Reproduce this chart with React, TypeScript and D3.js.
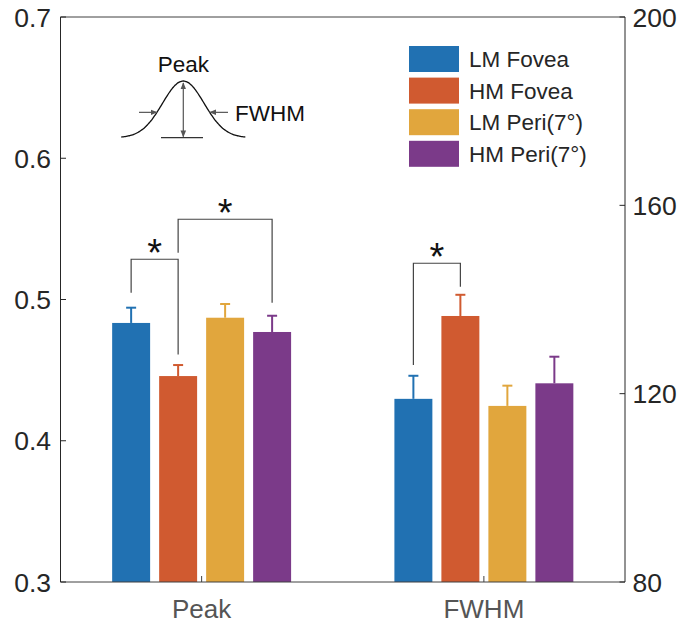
import React from "react";
import * as d3 from "d3";

const categories = ["Peak", "FWHM"];
const seriesNames = ["LM Fovea", "HM Fovea", "LM Peri(7°)", "HM Peri(7°)"];
const seriesColors = ["#2171b2", "#d05a30", "#e1a63d", "#7b3a89"];
const peakValues = [0.4834, 0.4458, 0.4871, 0.477];
const peakErrors = [0.0108, 0.0078, 0.0097, 0.0115];
const fwhmValues = [118.9, 136.5, 117.4, 122.2];
const fwhmErrors = [4.9, 4.5, 4.3, 5.65];
const leftTicks = [0.3, 0.4, 0.5, 0.6, 0.7];
const rightTicks = [80, 120, 160, 200];
// significance brackets
const brackets = [
  { cat: 0, a: 0, b: 1, top: 0.5285, legA: 0.5048, legB: 0.461 },
  { cat: 0, a: 1, b: 3, top: 0.5568, legA: 0.5331, legB: 0.4977 },
  { cat: 1, a: 0, b: 1, top: 147.7, legA: 126.1, legB: 142.7 },
];

const W = 681;
const H = 622;
const L = 60.5;
const R = 625;
const T = 17;
const B = 582;

export default function App() {
  const x = d3.scaleLinear().domain([0.5, 2.5]).range([L, R]);
  const yL = d3.scaleLinear().domain([0.3, 0.7]).range([B, T]);
  const yR = d3.scaleLinear().domain([80, 200]).range([B, T]);
  const groupOffset = d3
    .scaleBand<number>()
    .domain([0, 1, 2, 3])
    .range([-0.317, 0.317])
    .paddingInner(0.192);
  const bw = x(1 + groupOffset.bandwidth()) - x(1);
  const barX = (cat: number, s: number) =>
    x(cat + 1 + (groupOffset(s) as number) + groupOffset.bandwidth() / 2);

  const axisColor = "#262626";
  const font = "'Liberation Sans', Arial, Helvetica, sans-serif";

  const groups = [
    { values: peakValues, errors: peakErrors, y: yL },
    { values: fwhmValues, errors: fwhmErrors, y: yR },
  ];

  // inset gaussian
  const gx0 = 183.3;
  const gBase = 137.7;
  const gPeak = 81;
  const sigma = 20.8;
  const gPts = d3.range(-62, 62.5, 1);
  const gLine = d3
    .line<number>()
    .x((d) => gx0 + d)
    .y((d) => gBase - (gBase - gPeak) * Math.exp(-(d * d) / (2 * sigma * sigma)))
    .curve(d3.curveBasis);
  const halfY = gBase - (gBase - gPeak) / 2;
  const halfDx = sigma * Math.sqrt(2 * Math.log(2));
  const arrowGray = "#555";

  return (
    <svg
      width={W}
      height={H}
      style={{ position: "absolute", left: 0, top: 0, background: "#fff" }}
      fontFamily={font}
    >
      <defs>
        <marker id="ah" viewBox="0 0 10 10" refX="9" refY="5" markerWidth="7" markerHeight="7" orient="auto-start-reverse" markerUnits="userSpaceOnUse">
          <path d="M0,1 L10,5 L0,9 z" fill={arrowGray} />
        </marker>
      </defs>

      {/* bars */}
      {groups.map((g, ci) =>
        g.values.map((v, si) => {
          const cx = barX(ci, si);
          const yTop = g.y(v);
          const yCap = g.y(v + g.errors[si]);
          return (
            <g key={`${ci}-${si}`}>
              <rect x={cx - bw / 2} y={yTop} width={bw} height={B - yTop} fill={seriesColors[si]} />
              <line x1={cx} x2={cx} y1={yTop} y2={yCap} stroke={seriesColors[si]} strokeWidth={2} />
              <line x1={cx - 5} x2={cx + 5} y1={yCap} y2={yCap} stroke={seriesColors[si]} strokeWidth={2} />
            </g>
          );
        })
      )}

      {/* axes box */}
      <line x1={L} x2={R} y1={T} y2={T} stroke="#404040" strokeWidth={1} />
      <line x1={L} x2={R} y1={B} y2={B} stroke="#404040" strokeWidth={1} />
      <line x1={L} x2={L} y1={T} y2={B} stroke={axisColor} strokeWidth={1} />
      <line x1={R} x2={R} y1={T} y2={B} stroke={axisColor} strokeWidth={1} />

      {leftTicks.map((t) => (
        <g key={`l${t}`}>
          <line x1={L} x2={L + 5.5} y1={yL(t)} y2={yL(t)} stroke={axisColor} />
          <text x={L - 9.5} y={yL(t)} dy="0.36em" textAnchor="end" fontSize={26.5} fill={axisColor}>
            {t.toFixed(1)}
          </text>
        </g>
      ))}
      {rightTicks.map((t) => (
        <g key={`r${t}`}>
          <line x1={R} x2={R - 5.5} y1={yR(t)} y2={yR(t)} stroke={axisColor} />
          <text x={R + 7.5} y={yR(t)} dy="0.36em" textAnchor="start" fontSize={26.5} fill={axisColor}>
            {t}
          </text>
        </g>
      ))}
      {categories.map((c, i) => (
        <g key={c}>
          <line x1={x(i + 1)} x2={x(i + 1)} y1={B} y2={B - 6} stroke="#404040" />
          <text x={x(i + 1)} y={617.5} textAnchor="middle" fontSize={26} fill="#555">
            {c}
          </text>
        </g>
      ))}

      {/* significance brackets */}
      {brackets.map((br, i) => {
        const ys = br.cat === 0 ? yL : yR;
        const xa = barX(br.cat, br.a);
        const xb = barX(br.cat, br.b);
        return (
          <g key={`b${i}`}>
            <path
              d={`M${xa},${ys(br.legA)} L${xa},${ys(br.top)} L${xb},${ys(br.top)} L${xb},${ys(br.legB)}`}
              fill="none"
              stroke="#444"
              strokeWidth={1.2}
            />
            <text x={(xa + xb) / 2} y={ys(br.top) + 7} textAnchor="middle" fontSize={38} fill="#111">
              *
            </text>
          </g>
        );
      })}

      {/* legend */}
      {seriesNames.map((n, i) => (
        <g key={n} transform={`translate(409, ${46 + i * 31.6})`}>
          <rect x={0} y={0} width={50} height={26} fill={seriesColors[i]} />
          <text x={60} y={13} dy="0.36em" fontSize={22.5} fill="#262626">
            {n}
          </text>
        </g>
      ))}

      {/* inset */}
      <path d={gLine(gPts) || ""} fill="none" stroke="#111" strokeWidth={1.3} />
      <line x1={161} x2={203} y1={gBase} y2={gBase} stroke="#333" strokeWidth={1.2} />
      <line x1={gx0} x2={gx0} y1={gBase - 1} y2={gPeak + 2} stroke={arrowGray} strokeWidth={1.2} markerStart="url(#ah)" markerEnd="url(#ah)" />
      <line x1={139} x2={gx0 - halfDx - 2} y1={halfY + 3} y2={halfY + 3} stroke={arrowGray} strokeWidth={1.2} markerEnd="url(#ah)" />
      <line x1={228} x2={gx0 + halfDx + 2} y1={halfY + 3} y2={halfY + 3} stroke={arrowGray} strokeWidth={1.2} markerEnd="url(#ah)" />
      <text x={gx0} y={72} textAnchor="middle" fontSize={22.5} fill="#111">
        Peak
      </text>
      <text x={235} y={121} fontSize={22.5} fill="#111">
        FWHM
      </text>
    </svg>
  );
}
